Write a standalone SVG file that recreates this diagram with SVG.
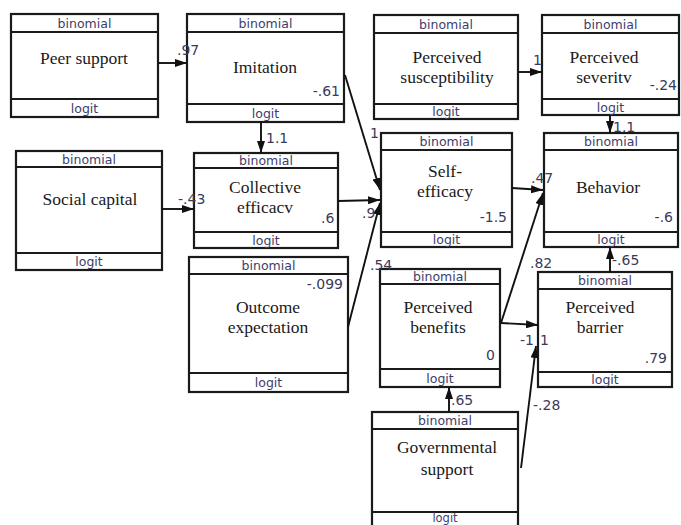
<svg xmlns="http://www.w3.org/2000/svg" width="681" height="525" viewBox="0 0 681 525">
<defs>
<marker id="ah" viewBox="0 0 12 8" markerWidth="12" markerHeight="8" refX="12" refY="4" orient="auto" markerUnits="userSpaceOnUse">
<path d="M0,0 L12,4 L0,8 z" fill="#111"/>
</marker>
<style>
.box{fill:#fff;stroke:#1a1a1a;stroke-width:2.2}
.sep{stroke:#1a1a1a;stroke-width:2.2}
.tag{font-family:"DejaVu Sans",sans-serif;font-size:12.5px;fill:#3d3d6b;text-anchor:middle}
.lbl{font-family:"Liberation Serif",serif;font-size:17.5px;fill:#1a1a1a;text-anchor:middle}
.num{font-family:"DejaVu Sans",sans-serif;font-size:14px;fill:#3a3a5a}
.end{text-anchor:end}
.con{stroke:#111;stroke-width:1.9;fill:none;marker-end:url(#ah)}
</style>
</defs>
<rect width="681" height="525" fill="#fff"/>

<g id="peer-support">
<rect class="box" x="11" y="14" width="147" height="103"/>
<line class="sep" x1="11" y1="32" x2="158" y2="32"/><line class="sep" x1="11" y1="99" x2="158" y2="99"/>
<text class="tag" x="84.5" y="28">binomial</text><text class="tag" x="84.5" y="112.5">logit</text>
<text class="lbl" x="84" y="64">Peer support</text>
</g>

<g id="imitation">
<rect class="box" x="187" y="14" width="157" height="108"/>
<line class="sep" x1="187" y1="32" x2="344" y2="32"/><line class="sep" x1="187" y1="104" x2="344" y2="104"/>
<text class="tag" x="265.5" y="28">binomial</text><text class="tag" x="265.5" y="117.5">logit</text>
<text class="lbl" x="265" y="73">Imitation</text>
<text class="num end" x="340" y="96">-.61</text>
</g>

<g id="perceived-susceptibility">
<rect class="box" x="374" y="15" width="144" height="104"/>
<line class="sep" x1="374" y1="33" x2="518" y2="33"/><line class="sep" x1="374" y1="104" x2="518" y2="104"/>
<text class="tag" x="446" y="29">binomial</text><text class="tag" x="446" y="116">logit</text>
<text class="lbl" x="447" y="63">Perceived</text><text class="lbl" x="447" y="83">susceptibility</text>
</g>

<g id="perceived-severity">
<rect class="box" x="542" y="15" width="137" height="100"/>
<line class="sep" x1="542" y1="33" x2="679" y2="33"/><line class="sep" x1="542" y1="99" x2="679" y2="99"/>
<text class="tag" x="610.5" y="29">binomial</text><text class="tag" x="610.5" y="111.5">logit</text>
<text class="lbl" x="604" y="63">Perceived</text><text class="lbl" x="604" y="83">severitv</text>
<text class="num end" x="677" y="90">-.24</text>
</g>

<g id="social-capital">
<rect class="box" x="16" y="151" width="146" height="119"/>
<line class="sep" x1="16" y1="167" x2="162" y2="167"/><line class="sep" x1="16" y1="253" x2="162" y2="253"/>
<text class="tag" x="89" y="163.5">binomial</text><text class="tag" x="89" y="266">logit</text>
<text class="lbl" x="90" y="205">Social capital</text>
</g>

<g id="collective-efficacy">
<rect class="box" x="194" y="153" width="144" height="95"/>
<line class="sep" x1="194" y1="168" x2="338" y2="168"/><line class="sep" x1="194" y1="232" x2="338" y2="232"/>
<text class="tag" x="266" y="165">binomial</text><text class="tag" x="266" y="244.5">logit</text>
<text class="lbl" x="265" y="193">Collective</text><text class="lbl" x="265" y="213">efficacv</text>
<text class="num" x="321" y="223">.6</text>
</g>

<g id="self-efficacy">
<rect class="box" x="381" y="133" width="131" height="114"/>
<line class="sep" x1="381" y1="150" x2="512" y2="150"/><line class="sep" x1="381" y1="232" x2="512" y2="232"/>
<text class="tag" x="446.5" y="146">binomial</text><text class="tag" x="446.5" y="244">logit</text>
<text class="lbl" x="445" y="177">Self-</text><text class="lbl" x="445" y="197">efficacy</text>
<text class="num end" x="507" y="222">-1.5</text>
</g>

<g id="behavior">
<rect class="box" x="544" y="133" width="134" height="114"/>
<line class="sep" x1="544" y1="150" x2="678" y2="150"/><line class="sep" x1="544" y1="232" x2="678" y2="232"/>
<text class="tag" x="611" y="146">binomial</text><text class="tag" x="611" y="244">logit</text>
<text class="lbl" x="608" y="193">Behavior</text>
<text class="num end" x="673" y="222">-.6</text>
</g>

<g id="outcome-expectation">
<rect class="box" x="189" y="257" width="159" height="135"/>
<line class="sep" x1="189" y1="274" x2="348" y2="274"/><line class="sep" x1="189" y1="373" x2="348" y2="373"/>
<text class="tag" x="268.5" y="270">binomial</text><text class="tag" x="268.5" y="387">logit</text>
<text class="lbl" x="268" y="313">Outcome</text><text class="lbl" x="268" y="333">expectation</text>
<text class="num end" x="343" y="289">-.099</text>
</g>

<g id="perceived-benefits">
<rect class="box" x="380" y="269" width="120" height="118"/>
<line class="sep" x1="380" y1="284" x2="500" y2="284"/><line class="sep" x1="380" y1="369" x2="500" y2="369"/>
<text class="tag" x="440" y="281">binomial</text><text class="tag" x="440" y="382.5">logit</text>
<text class="lbl" x="438" y="313">Perceived</text><text class="lbl" x="438" y="333">benefits</text>
<text class="num end" x="495" y="360">0</text>
</g>

<g id="perceived-barrier">
<rect class="box" x="538" y="272" width="134" height="115"/>
<line class="sep" x1="538" y1="289" x2="672" y2="289"/><line class="sep" x1="538" y1="372" x2="672" y2="372"/>
<text class="tag" x="605" y="285">binomial</text><text class="tag" x="605" y="384">logit</text>
<text class="lbl" x="600" y="313">Perceived</text><text class="lbl" x="600" y="333">barrier</text>
<text class="num end" x="667" y="363">.79</text>
</g>

<g id="governmental-support">
<rect class="box" x="372" y="412" width="146" height="120"/>
<line class="sep" x1="372" y1="429" x2="518" y2="429"/><line class="sep" x1="372" y1="512" x2="518" y2="512"/>
<text class="tag" x="445" y="425">binomial</text><text class="tag" x="445" y="521.5" style="font-size:11.5px">logit</text>
<text class="lbl" x="447" y="453">Governmental</text><text class="lbl" x="447" y="475">support</text>
</g>

<g id="connectors">
<line class="con" x1="158" y1="63" x2="187" y2="63"/>
<line class="con" x1="261" y1="122" x2="261" y2="153"/>
<line class="con" x1="345" y1="75" x2="380" y2="190"/>
<line class="con" x1="162" y1="209" x2="194" y2="209"/>
<line class="con" x1="338" y1="201" x2="380" y2="200"/>
<line class="con" x1="348" y1="327" x2="380" y2="203"/>
<line class="con" x1="518" y1="72" x2="542" y2="72"/>
<line class="con" x1="610" y1="115" x2="610" y2="133"/>
<line class="con" x1="512" y1="188" x2="543" y2="190"/>
<line class="con" x1="501" y1="323" x2="543" y2="193"/>
<line class="con" x1="501" y1="323" x2="538" y2="325"/>
<line class="con" x1="610" y1="272" x2="610" y2="247"/>
<line class="con" x1="449" y1="412" x2="449" y2="387"/>
<line class="con" x1="521" y1="468" x2="536" y2="346"/>
<text class="num" x="177" y="55">.97</text>
<text class="num" x="266" y="143">1.1</text>
<text class="num" x="370" y="138">1</text>
<text class="num" x="178" y="204">-.43</text>
<text class="num" x="362" y="218">.9</text>
<text class="num" x="370" y="270">.54</text>
<text class="num" x="533" y="65">1</text>
<text class="num" x="613" y="132">1.1</text>
<text class="num" x="531" y="183">.47</text>
<text class="num" x="530" y="268">.82</text>
<text class="num" x="612" y="265">-.65</text>
<text class="num" x="520" y="345">-1</text>
<text class="num" x="540" y="345">1</text>
<text class="num" x="451" y="405">.65</text>
<text class="num" x="533" y="410">-.28</text>
</g>
</svg>
